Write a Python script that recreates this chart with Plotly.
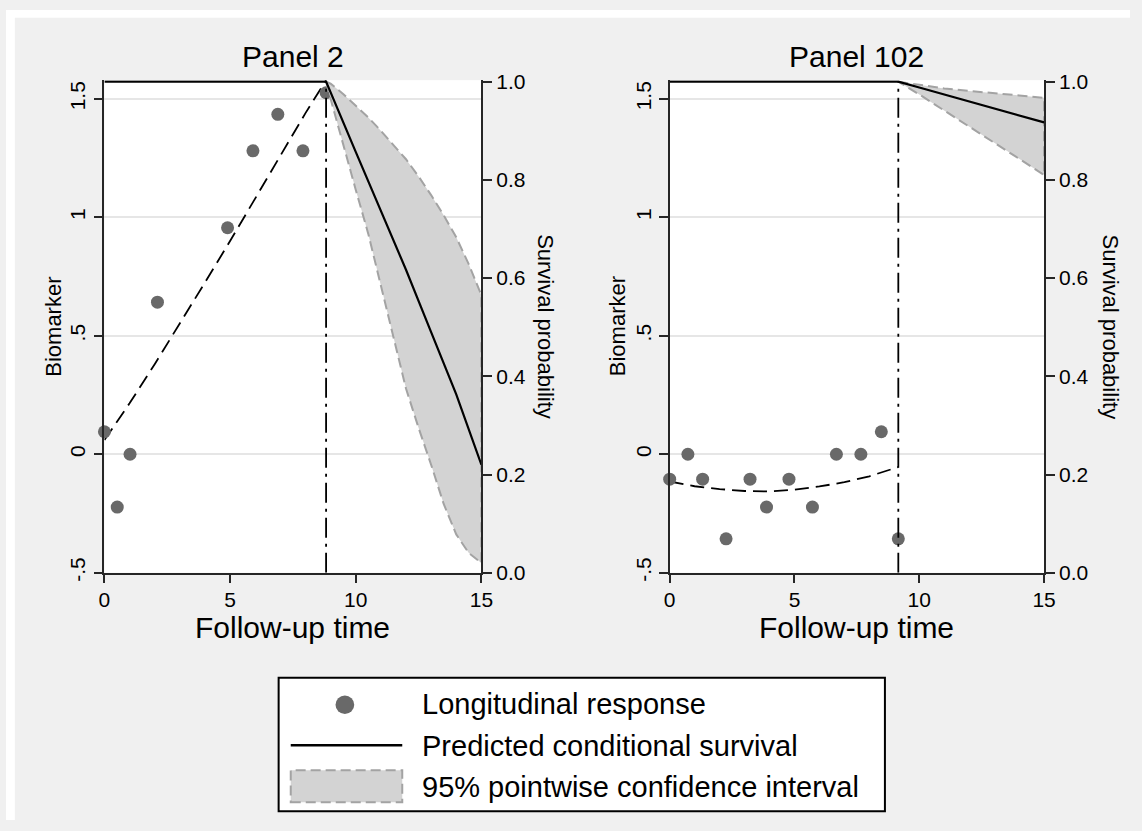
import plotly.graph_objects as go

# ---------------- data ----------------
# Panel 2
p2_obs_time = [0.0, 0.51, 1.02, 2.11, 4.90, 5.91, 6.90, 7.90, 8.82]
p2_obs_val = [0.095, -0.223, 0.0, 0.642, 0.956, 1.281, 1.435, 1.281, 1.526]
p2_fit_time = [0, 1, 2, 3, 4, 5, 6, 7, 8, 8.82]
p2_fit_val = [0.06, 0.215, 0.38, 0.55, 0.725, 0.90, 1.08, 1.26, 1.44, 1.579]
p2_surv_time = [0, 8.82, 10, 11, 12, 13, 14, 15]
p2_surv_val = [1.0, 1.0, 0.857, 0.737, 0.617, 0.49, 0.363, 0.22]
p2_ci_time = [8.82, 9.0, 9.5, 10, 10.5, 11, 11.5, 12, 12.5, 13, 13.5, 14, 14.5, 15]
p2_ci_upper = [1.0, 0.996, 0.975, 0.952, 0.927, 0.900, 0.871, 0.842, 0.807, 0.769, 0.728, 0.683, 0.628, 0.565]
p2_ci_lower = [1.0, 0.965, 0.870, 0.780, 0.690, 0.590, 0.480, 0.375, 0.295, 0.220, 0.140, 0.078, 0.040, 0.020]
p2_landmark = 8.82

# Panel 102
p102_obs_time = [0.0, 0.73, 1.32, 2.26, 3.22, 3.88, 4.78, 5.72, 6.68, 7.66, 8.48, 9.16]
p102_obs_val = [-0.105, 0.0, -0.105, -0.357, -0.105, -0.223, -0.105, -0.223, 0.0, 0.0, 0.095, -0.357]
p102_fit_time = [0, 1, 2, 3, 4, 5, 6, 7, 8, 9.16]
p102_fit_val = [-0.115, -0.135, -0.147, -0.155, -0.157, -0.150, -0.136, -0.118, -0.093, -0.054]
p102_surv_time = [0, 9.16, 10, 11, 12, 13, 14, 15]
p102_surv_val = [1.0, 1.0, 0.988, 0.974, 0.960, 0.946, 0.931, 0.917]
p102_ci_time = [9.16, 10, 11, 12, 13, 14, 15]
p102_ci_upper = [1.0, 0.994, 0.986, 0.981, 0.977, 0.972, 0.967]
p102_ci_lower = [1.0, 0.974, 0.941, 0.908, 0.876, 0.843, 0.810]
p102_landmark = 9.16

panel_titles = ["Panel 2", "Panel 102"]
x_ticks = [0, 5, 10, 15]
bio_ticks = [-0.5, 0, 0.5, 1, 1.5]
bio_ticktext = ["-.5", "0", ".5", "1", "1.5"]
surv_ticks = [0, 0.2, 0.4, 0.6, 0.8, 1.0]
surv_ticktext = ["0.0", "0.2", "0.4", "0.6", "0.8", "1.0"]
legend_labels = ["Longitudinal response", "Predicted conditional survival",
                 "95% pointwise confidence interval"]

# ---------------- style ----------------
W, H = 1142, 831
FONT = "Liberation Sans, Arial, sans-serif"
BG = "#f0f0f0"
MARKER = "#696969"
FILL = "#d3d3d3"
CI_LINE = "#a3a3a3"
AXIS = "#262626"
GRID = "#e6e6e6"


def px(x):
    return x / W


def py(y):
    return 1 - y / H


fig = go.Figure()

panels = [
    dict(obs_t=p2_obs_time, obs_v=p2_obs_val, fit_t=p2_fit_time, fit_v=p2_fit_val,
         s_t=p2_surv_time, s_v=p2_surv_val, ci_t=p2_ci_time, ci_u=p2_ci_upper,
         ci_l=p2_ci_lower, lm=p2_landmark, xa="x", ya="y", ys="y2"),
    dict(obs_t=p102_obs_time, obs_v=p102_obs_val, fit_t=p102_fit_time, fit_v=p102_fit_val,
         s_t=p102_surv_time, s_v=p102_surv_val, ci_t=p102_ci_time, ci_u=p102_ci_upper,
         ci_l=p102_ci_lower, lm=p102_landmark, xa="x2", ya="y3", ys="y4"),
]

for p in panels:
    # confidence band (closed polygon)
    fig.add_trace(go.Scatter(
        x=p["ci_t"] + p["ci_t"][::-1], y=p["ci_u"] + p["ci_l"][::-1],
        xaxis=p["xa"], yaxis=p["ys"], mode="lines", fill="toself", fillcolor=FILL,
        line=dict(color=CI_LINE, width=2, dash="10px,5px"),
        hoverinfo="skip", showlegend=False))
    # predicted survival
    fig.add_trace(go.Scatter(
        x=p["s_t"], y=p["s_v"], xaxis=p["xa"], yaxis=p["ys"], mode="lines",
        line=dict(color="black", width=2.2), showlegend=False))
    # fitted longitudinal trajectory
    fig.add_trace(go.Scatter(
        x=p["fit_t"], y=p["fit_v"], xaxis=p["xa"], yaxis=p["ya"], mode="lines",
        line=dict(color="black", width=1.8, dash="14px,7px"), showlegend=False))
    # observed biomarker
    fig.add_trace(go.Scatter(
        x=p["obs_t"], y=p["obs_v"], xaxis=p["xa"], yaxis=p["ya"], mode="markers",
        marker=dict(color=MARKER, size=13, line=dict(width=0)), cliponaxis=False,
        showlegend=False))
    # landmark time line
    fig.add_trace(go.Scatter(
        x=[p["lm"], p["lm"]], y=[0, 1], xaxis=p["xa"], yaxis=p["ys"], mode="lines",
        line=dict(color="black", width=1.8, dash="20px,6px,3px,6px"), showlegend=False))

ydom = [py(577.3), py(72)]
xdom1 = [px(100), px(483)]
xdom2 = [px(674.3), px(1054.7)]

tickfont = dict(family=FONT, size=21, color="black")


def xaxis_cfg(dom, anchor):
    return dict(domain=dom, anchor=anchor, range=[0, 15], tickvals=x_ticks,
                ticks="outside", ticklen=9, tickwidth=1.5, tickcolor=AXIS,
                ticklabelstandoff=-2,
                showline=True, linecolor=AXIS, linewidth=1.5, showgrid=False,
                zeroline=False, tickfont=tickfont, fixedrange=True)


def bio_cfg(anchor):
    return dict(domain=ydom, anchor=anchor, range=[-0.5, 1.579], tickvals=bio_ticks,
                ticktext=bio_ticktext, tickangle=-90, ticks="outside", ticklen=9,
                tickwidth=1.5, tickcolor=AXIS, showline=True, linecolor=AXIS,
                linewidth=1.5, showgrid=True, gridcolor=GRID, gridwidth=1.8,
                zeroline=False, tickfont=tickfont, fixedrange=True)


def surv_cfg(anchor, over):
    return dict(domain=ydom, anchor=anchor, overlaying=over, side="right",
                range=[0, 1.003], tickvals=surv_ticks, ticktext=surv_ticktext,
                ticks="outside", ticklen=9, tickwidth=1.5, tickcolor=AXIS,
                showline=True, linecolor=AXIS, linewidth=1.5, showgrid=False,
                zeroline=False, tickfont=tickfont, fixedrange=True)


fig.update_layout(
    width=W, height=H,
    margin=dict(l=0, r=0, t=0, b=0),
    paper_bgcolor=BG, plot_bgcolor="white",
    font=dict(family=FONT, color="black"),
    showlegend=False,
    xaxis=xaxis_cfg(xdom1, "y"),
    yaxis=bio_cfg("x"),
    yaxis2=surv_cfg("x", "y"),
    xaxis2=xaxis_cfg(xdom2, "y3"),
    yaxis3=bio_cfg("x2"),
    yaxis4=surv_cfg("x2", "y3"),
)

annotations = []
for title, (x0, x1), bx, sx in [(panel_titles[0], (100, 483), 48, 548),
                                (panel_titles[1], (674.3, 1054.7), 621.5, 1122.7)]:
    cx = (x0 + x1) / 2
    annotations.append(dict(text=title, x=px(cx), y=py(48), xref="paper", yref="paper",
                            xanchor="center", yanchor="middle", showarrow=False,
                            font=dict(size=30, family=FONT, color="black")))
    annotations.append(dict(text="Follow-up time", x=px(cx), y=py(615), xref="paper",
                            yref="paper", xanchor="center", yanchor="top", showarrow=False,
                            font=dict(size=30, family=FONT, color="black")))
    annotations.append(dict(text="Biomarker", x=px(bx), y=py(324.7), xref="paper",
                            yref="paper", xanchor="center", yanchor="middle", showarrow=False,
                            textangle=-90, font=dict(size=22, family=FONT, color="black")))
    annotations.append(dict(text="Survival probability", x=px(sx), y=py(324.7), xref="paper",
                            yref="paper", xanchor="center", yanchor="middle", showarrow=False,
                            textangle=90, font=dict(size=22, family=FONT, color="black")))

# legend text
for lab, yc in zip(legend_labels, [712, 755, 797]):
    annotations.append(dict(text=lab, x=px(420.7), y=py(yc), xref="paper", yref="paper",
                            xanchor="left", yanchor="middle", showarrow=False,
                            font=dict(size=29, family=FONT, color="black")))

shapes = [
    # white strips at the top and left edges
    dict(type="rect", xref="paper", yref="paper", x0=0, x1=px(9), y0=0, y1=1,
         fillcolor="white", line=dict(width=0), layer="below"),
    dict(type="rect", xref="paper", yref="paper", x0=0, x1=1, y0=py(8), y1=1,
         fillcolor="white", line=dict(width=0), layer="below"),
    # legend box
    dict(type="rect", xref="paper", yref="paper", x0=px(277), x1=px(893),
         y0=py(822), y1=py(685), fillcolor="white", line=dict(color="black", width=2)),
    # legend keys
    dict(type="circle", xref="paper", yref="paper", x0=px(334.8), x1=px(353.8),
         y0=py(722.2), y1=py(703.2), fillcolor=MARKER, line=dict(width=0)),
    dict(type="line", xref="paper", yref="paper", x0=px(289.3), x1=px(402.6),
         y0=py(754.3), y1=py(754.3), line=dict(color="black", width=2.5)),
    dict(type="rect", xref="paper", yref="paper", x0=px(289.3), x1=px(402.6),
         y0=py(812.7), y1=py(780), fillcolor=FILL,
         line=dict(color=CI_LINE, width=2, dash="10px,5px")),
]

fig.update_layout(annotations=annotations, shapes=shapes)

fig.write_html("out.html")
